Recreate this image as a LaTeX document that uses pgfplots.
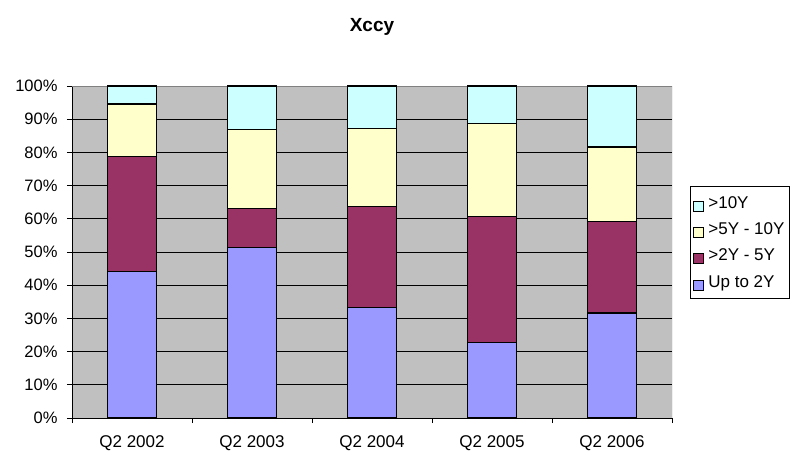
\documentclass[border=0pt]{standalone}
\usepackage{fontspec}
\setmainfont{Liberation Sans}
\usepackage{pgfplots}
\usepackage{pgfplotstable}
\pgfplotsset{compat=1.18}

\definecolor{upto}{HTML}{9999FF}
\definecolor{twofive}{HTML}{993366}
\definecolor{fiveten}{HTML}{FFFFCC}
\definecolor{tenplus}{HTML}{CCFFFF}
\definecolor{plotbg}{HTML}{C0C0C0}

\pgfplotstableread{
x  upto  twofive fiveten tenplus
0  44.1  34.6    15.9    5.4
1  51.3  11.8    23.7    13.2
2  33.4  30.4    23.5    12.7
3  22.8  37.8    28.0    11.4
4  31.6  27.6    22.4    18.4
}\xccy

\begin{document}
\begin{tikzpicture}
\useasboundingbox (-72pt,-40pt) rectangle (718pt,418pt);
\begin{axis}[
    at={(0,0)}, anchor=south west,
    scale only axis,
    width=600pt, height=332pt,
    ybar stacked, bar width=0.406,
    xmin=-0.5, xmax=4.5,
    ymin=0, ymax=100,
    axis background/.style={fill=plotbg},
    axis lines*=left,
    axis line style={black, line width=0.8pt},
    tick align=outside,
    major tick length=5pt,
    tick style={black, line width=0.8pt},
    xtick={-0.5,0.5,...,4.5},
    xticklabels={},
    extra x ticks={0,1,2,3,4},
    extra x tick labels={Q2 2002,Q2 2003,Q2 2004,Q2 2005,Q2 2006},
    extra x tick style={major tick length=0pt, tick label style={yshift=-14pt, font=\fontsize{17}{20}\selectfont}},
    ytick={0,10,...,100},
    yticklabels={0\%,10\%,20\%,30\%,40\%,50\%,60\%,70\%,80\%,90\%,100\%},
    yticklabel style={xshift=-6pt},
    ymajorgrids,
    major grid style={black, line width=0.8pt},
    ticklabel style={font=\fontsize{16.5}{19}\selectfont},
    title={Xccy},
    title style={at={(0.5,1)}, anchor=center, yshift=53pt, font=\fontsize{19}{22}\selectfont\bfseries},
    reverse legend,
    legend cell align=left,
    legend style={at={(1.03,0.699)}, anchor=north west,
        draw=black, line width=0.8pt, fill=white,
        font=\fontsize{17}{22}\selectfont,
        row sep=9pt, inner xsep=3pt, inner ysep=8pt},
    legend image code/.code={\draw[#1, line width=0.8pt] (0pt,-8pt) rectangle (10pt,2pt); \path (12pt,0pt);},
    every axis plot/.append style={draw=black, line width=1.2pt},
]
\addplot[fill=upto] table[x=x, y=upto] {\xccy};
\addlegendentry{Up to 2Y}
\addplot[fill=twofive] table[x=x, y=twofive] {\xccy};
\addlegendentry{>2Y - 5Y}
\addplot[fill=fiveten] table[x=x, y=fiveten] {\xccy};
\addlegendentry{>5Y - 10Y}
\addplot[fill=tenplus] table[x=x, y=tenplus] {\xccy};
\addlegendentry{>10Y}
\draw[gray, line width=0.8pt] (rel axis cs:0,1) -- (rel axis cs:1,1) -- (rel axis cs:1,0);
\end{axis}
\end{tikzpicture}
\end{document}
